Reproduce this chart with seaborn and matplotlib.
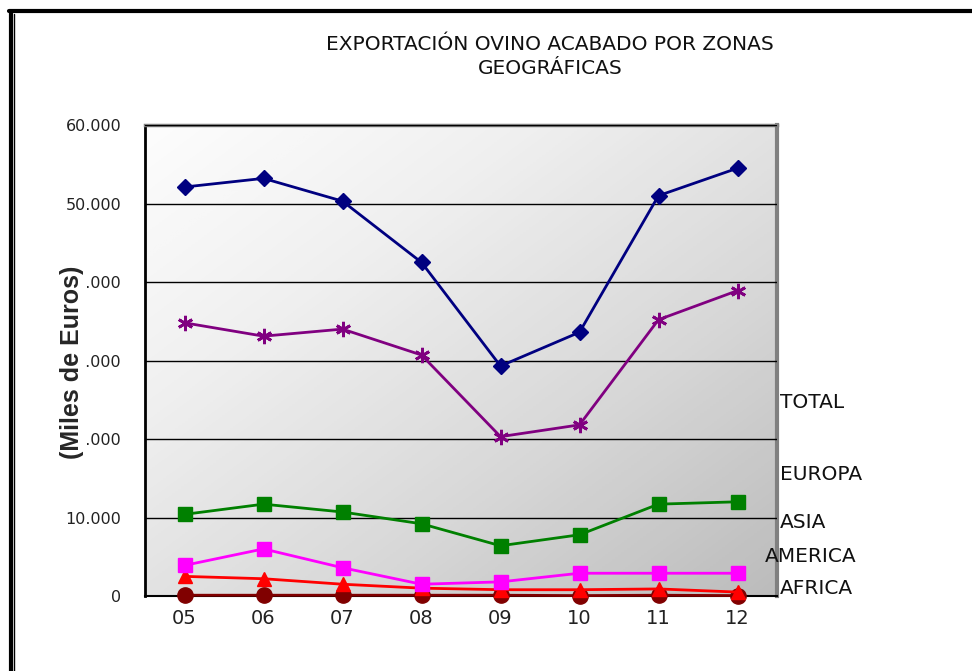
import numpy as np
import pandas as pd
import seaborn as sns
import matplotlib.pyplot as plt
from matplotlib.lines import Line2D

# data (miles de euros)
years = ["05", "06", "07", "08", "09", "10", "11", "12"]
total = [52100, 53200, 50300, 42500, 29300, 33600, 51000, 54500]
europa = [34800, 33100, 34000, 30700, 20300, 21800, 35200, 38900]
asia = [10400, 11700, 10700, 9200, 6400, 7800, 11700, 12000]
america = [3900, 6000, 3600, 1500, 1800, 2900, 2900, 2900]
africa = [2500, 2200, 1500, 1000, 800, 800, 900, 500]
oceania = [100, 100, 100, 100, 100, 50, 100, 50]

series = {
    "TOTAL": total,
    "EUROPA": europa,
    "ASIA": asia,
    "AMERICA": america,
    "AFRICA": africa,
    "OCEANIA": oceania,
}
rows = []
for name, vals in series.items():
    for i, v in enumerate(vals):
        rows.append({"pos": i, "year": years[i], "zona": name, "valor": v})
df = pd.DataFrame(rows)

colors = {"TOTAL": "#000080", "EUROPA": "#800080", "ASIA": "#008000",
          "AMERICA": "#FF00FF", "AFRICA": "#FF0000", "OCEANIA": "#800000"}
markers = {"TOTAL": "D", "EUROPA": (6, 2, 0), "ASIA": "s",
           "AMERICA": "s", "AFRICA": "^", "OCEANIA": "o"}
msizes = {"TOTAL": 8, "EUROPA": 11, "ASIA": 10, "AMERICA": 10, "AFRICA": 10, "OCEANIA": 11}

sns.set_style("white")
plt.rcParams["font.family"] = ["DejaVu Sans"]

fig = plt.figure(figsize=(9.72, 6.71), dpi=100)
ax = fig.add_axes([145 / 972, 1 - 596 / 671, 632 / 972, 471 / 671])

# gradient background: white top-left to gray bottom-right
gx, gy = np.meshgrid(np.linspace(0, 1, 200), np.linspace(0, 1, 200))
grad = (gx + gy) / 2
ax.imshow(grad, extent=[0, 1, 0, 1], transform=ax.transAxes, cmap="Greys",
          vmin=-0.05, vmax=2.7, aspect="auto", zorder=0, interpolation="bilinear")

for name in ["OCEANIA", "AFRICA", "AMERICA", "ASIA", "EUROPA", "TOTAL"]:
    sub = df[df["zona"] == name]
    m = markers[name]
    sns.lineplot(data=sub, x="pos", y="valor", ax=ax, color=colors[name],
                 linewidth=2, marker=m, markersize=msizes[name],
                 markeredgecolor=colors[name],
                 markeredgewidth=2 if name == "EUROPA" else 1,
                 zorder=4, clip_on=False, legend=False)

ax.set_xlim(-0.5, 7.5)
ax.set_ylim(0, 60000)
ax.set_yticks(range(0, 60001, 10000))
ax.set_yticklabels(["0", "10.000", "20.000", "30.000", "40.000", "50.000", "60.000"],
                   fontsize=11.5, color="#222222")
ax.set_xticks(range(len(years)))
ax.set_xticklabels(years, fontsize=14, color="#222222")
ax.set_xticks(np.arange(-0.5, 7.6, 1), minor=True)
ax.tick_params(axis="x", which="major", length=0, pad=9)
ax.tick_params(axis="x", which="minor", length=6, width=1, color="black", direction="out")
ax.tick_params(axis="y", length=8, width=1, color="black", direction="out", pad=9)
ax.yaxis.grid(True, color="black", linewidth=1)
ax.set_axisbelow(False)
for gl in ax.get_ygridlines():
    gl.set_zorder(1)
ax.set_xlabel("")
ax.set_ylabel("")

ax.spines["left"].set_color("black")
ax.spines["left"].set_linewidth(2)
ax.spines["bottom"].set_color("black")
ax.spines["bottom"].set_linewidth(1.5)
ax.spines["top"].set_color("#808080")
ax.spines["top"].set_linewidth(2.5)
ax.spines["right"].set_color("#808080")
ax.spines["right"].set_linewidth(3)

fig.text(550 / 972, 1 - 45 / 671, "EXPORTACIÓN OVINO ACABADO POR ZONAS",
         ha="center", va="center", fontsize=14.5, color="#111111")
fig.text(550 / 972, 1 - 68 / 671, "GEOGRÁFICAS",
         ha="center", va="center", fontsize=14.5, color="#111111")

# y label sits over the tick numbers, as in the original
fig.text(72 / 972, 1 - 362 / 671, "(Miles de Euros)", rotation=90,
         ha="center", va="center", fontsize=18, fontweight="bold",
         family=["Liberation Sans Narrow", "Liberation Sans", "DejaVu Sans"],
         bbox=dict(facecolor="white", edgecolor="none", pad=0.5), zorder=5)

labels = [("TOTAL", 780, 402), ("EUROPA", 780, 474), ("ASIA", 780, 523),
          ("AMERICA", 765, 557), ("AFRICA", 780, 589)]
for txt, px, py in labels:
    fig.text(px / 972, 1 - py / 671, txt, ha="left", va="center",
             fontsize=14.5, color="#111111")

# outer frame
fig.add_artist(Line2D([10.5 / 972, 10.5 / 972], [0, 1 - 11 / 671],
                      transform=fig.transFigure, color="black", linewidth=3))
fig.add_artist(Line2D([13.5 / 972, 13.5 / 972], [0, 1 - 14 / 671],
                      transform=fig.transFigure, color="black", linewidth=1))
fig.add_artist(Line2D([9 / 972, 1], [1 - 11 / 671, 1 - 11 / 671],
                      transform=fig.transFigure, color="black", linewidth=3))

fig.savefig("out.png", dpi=100)
